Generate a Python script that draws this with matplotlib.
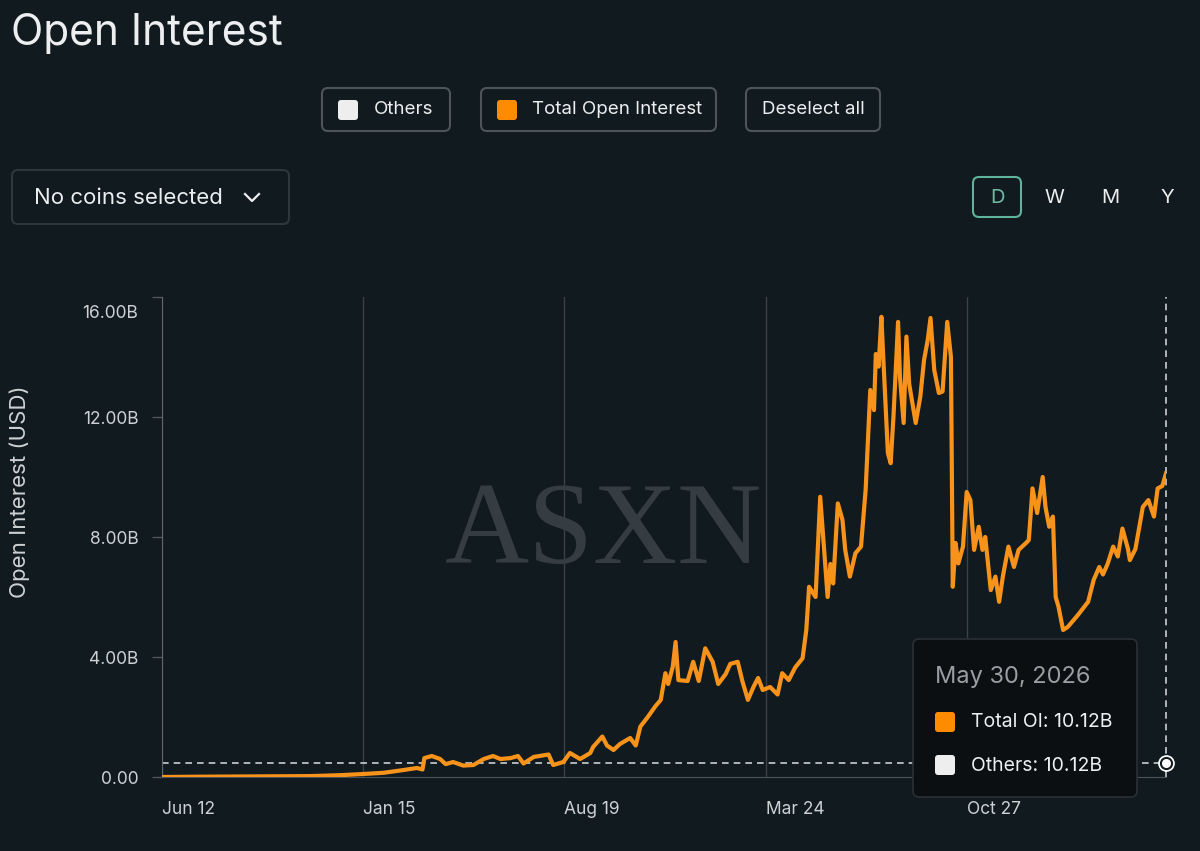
import matplotlib
matplotlib.use("Agg")
import matplotlib.pyplot as plt
from matplotlib.patches import FancyBboxPatch
from matplotlib.lines import Line2D
import pandas as pd

# values (billions USD)
dates = [
    "2023-06-12", "2023-07-23", "2023-09-26", "2023-11-19", "2023-12-21", "2024-01-15",
    "2024-02-06", "2024-02-27", "2024-03-13", "2024-03-19", "2024-03-21", "2024-03-29",
    "2024-04-07", "2024-04-13", "2024-04-21", "2024-05-02", "2024-05-13", "2024-05-24",
    "2024-06-03", "2024-06-11", "2024-06-22", "2024-06-30", "2024-07-06", "2024-07-17",
    "2024-07-27", "2024-08-02", "2024-08-07", "2024-08-18", "2024-08-25", "2024-09-05",
    "2024-09-16", "2024-09-19", "2024-09-29", "2024-10-04", "2024-10-11", "2024-10-18",
    "2024-10-29", "2024-11-04", "2024-11-09", "2024-11-17", "2024-11-25", "2024-12-01",
    "2024-12-06", "2024-12-09", "2024-12-14", "2024-12-17", "2024-12-20", "2024-12-30",
    "2025-01-05", "2025-01-11", "2025-01-18", "2025-01-26", "2025-02-01", "2025-02-09",
    "2025-02-14", "2025-02-22", "2025-02-27", "2025-03-05", "2025-03-11", "2025-03-16",
    "2025-03-21", "2025-03-29", "2025-04-06", "2025-04-11", "2025-04-18", "2025-04-25",
    "2025-05-03", "2025-05-07", "2025-05-10", "2025-05-17", "2025-05-22", "2025-05-26",
    "2025-05-30", "2025-06-02", "2025-06-05", "2025-06-10", "2025-06-15", "2025-06-18",
    "2025-06-23", "2025-06-29", "2025-07-05", "2025-07-10", "2025-07-13", "2025-07-15",
    "2025-07-19", "2025-07-21", "2025-07-24", "2025-07-27", "2025-07-29", "2025-08-03",
    "2025-08-06", "2025-08-09", "2025-08-14", "2025-08-16", "2025-08-20", "2025-08-23",
    "2025-08-26", "2025-09-02", "2025-09-07", "2025-09-11", "2025-09-15", "2025-09-18",
    "2025-09-22", "2025-09-27", "2025-10-01", "2025-10-06", "2025-10-10", "2025-10-12",
    "2025-10-15", "2025-10-18", "2025-10-23", "2025-10-27", "2025-10-31", "2025-11-04",
    "2025-11-09", "2025-11-13", "2025-11-16", "2025-11-22", "2025-11-27", "2025-12-01",
    "2025-12-05", "2025-12-11", "2025-12-17", "2025-12-22", "2025-12-30", "2026-01-02",
    "2026-01-06", "2026-01-11", "2026-01-17", "2026-01-20", "2026-01-24", "2026-01-28",
    "2026-01-31", "2026-02-03", "2026-02-08", "2026-02-13", "2026-02-24", "2026-03-07",
    "2026-03-13", "2026-03-19", "2026-03-23", "2026-03-28", "2026-04-03", "2026-04-08",
    "2026-04-13", "2026-04-19", "2026-04-21", "2026-04-27", "2026-05-05", "2026-05-11",
    "2026-05-17", "2026-05-21", "2026-05-26", "2026-05-30",
]
total_oi = [
    0.00, 0.01, 0.02, 0.03, 0.06, 0.10,
    0.14, 0.23, 0.30, 0.25, 0.63, 0.70,
    0.60, 0.43, 0.50, 0.38, 0.40, 0.60,
    0.70, 0.60, 0.63, 0.70, 0.45, 0.67,
    0.72, 0.75, 0.40, 0.50, 0.80, 0.60,
    0.80, 1.00, 1.35, 1.05, 0.90, 1.10,
    1.30, 1.05, 1.68, 2.00, 2.35, 2.57,
    3.46, 3.10, 3.68, 4.50, 3.23, 3.20,
    3.84, 3.20, 4.29, 3.84, 3.10, 3.43,
    3.77, 3.84, 3.20, 2.57, 3.00, 3.30,
    2.90, 3.00, 2.75, 3.46, 3.23, 3.65,
    3.96, 4.90, 6.34, 6.00, 9.34, 7.68,
    6.00, 7.10, 6.45, 9.12, 8.57, 7.57,
    6.68, 7.46, 7.68, 9.57, 11.57, 12.90,
    12.23, 14.10, 13.68, 15.34, 14.00, 10.80,
    10.46, 12.00, 15.17, 13.34, 11.80, 14.68,
    13.10, 11.80, 12.68, 13.90, 14.57, 15.30,
    13.57, 12.80, 12.85, 15.17, 14.00, 6.34,
    7.80, 7.12, 7.68, 9.50, 9.23, 7.57,
    8.34, 7.57, 8.00, 6.23, 6.68, 5.84,
    6.68, 7.68, 7.00, 7.57, 7.80, 7.90,
    9.62, 8.80, 10.00, 9.00, 8.34, 8.68,
    6.00, 5.68, 4.90, 5.00, 5.40, 5.84,
    6.57, 7.00, 6.75, 7.10, 7.68, 7.35,
    8.28, 7.60, 7.23, 7.60, 9.00, 9.23,
    8.68, 9.62, 9.70, 10.12,
]
tick_dates = ["2023-06-12", "2024-01-15", "2024-08-19", "2025-03-24", "2025-10-27"]
tick_labels = ["Jun 12", "Jan 15", "Aug 19", "Mar 24", "Oct 27"]
y_ticks = [0, 4, 8, 12, 16]
y_labels = ["0.00", "4.00B", "8.00B", "12.00B", ""]
cursor_level = 0.47

bg = "#111a1f"
orange = "#f7931a"
txt = "#eceef0"
muted = "#cdd1d4"

plt.rcParams["font.family"] = ["Inter", "DejaVu Sans"]

fig = plt.figure(figsize=(12, 8.51), dpi=100, facecolor=bg)
T = fig.dpi_scale_trans


def P(x, y):
    return x / 100, (851 - y) / 100


def box(x0, y0, x1, y1, ec, fc="none", r=0.06, lw=1.5, z=5):
    p = FancyBboxPatch(P(x0, y1), (x1 - x0) / 100, (y1 - y0) / 100,
                       boxstyle=f"round,pad=0,rounding_size={r}", transform=T,
                       fc=fc, ec=ec, lw=lw, zorder=z)
    fig.patches.append(p)


def label(x, y, s, **kw):
    kw.setdefault("color", txt)
    kw.setdefault("va", "center")
    fig.text(*P(x, y), s, transform=T, **kw)


# header
label(11, 34, "Open Interest", fontsize=30.5)

box(322, 88, 450, 131, "#4d555b")
box(338, 100, 358, 120, "none", fc="#eeeeee", r=0.03)
label(374, 110, "Others", fontsize=13.5)
box(481, 88, 716, 131, "#4d555b")
box(497, 100, 517, 120, "none", fc="#ff8c00", r=0.03)
label(532, 110, "Total Open Interest", fontsize=13.5)
box(746, 88, 880, 131, "#4d555b")
label(762, 110, "Deselect all", fontsize=13.5)

box(12, 170, 289, 224, "#2e373d")
label(34, 198, "No coins selected", fontsize=16)
fig.lines.append(Line2D([2.45, 2.52, 2.59], [(851 - 194) / 100, (851 - 201) / 100, (851 - 194) / 100],
                        transform=T, color=txt, lw=1.6))

box(973, 177, 1021, 217, "#5fb39a")
label(997, 198, "D", fontsize=14.5, color="#6fb9a3", ha="center")
for x, s in [(1054, "W"), (1110, "M"), (1167, "Y")]:
    label(x, 198, s, fontsize=14.5, ha="center")

# watermark
label(603, 535, "ASXN", fontsize=84, family="Liberation Serif", color="#353d43", ha="center")

# chart
ax = fig.add_axes([162 / 1200, 1 - 777 / 851, (1166 - 162) / 1200, (777 - 297) / 851])
ax.set_facecolor("none")
x = pd.to_datetime(dates)
ax.plot(x, total_oi, color=orange, lw=3.0, solid_joinstyle="round", zorder=3)
ax.set_xlim(x[0], x[-1])
ax.set_ylim(0, 16)

ax.set_xticks(pd.to_datetime(tick_dates))
ax.set_xticklabels(tick_labels, ha="left")
ax.set_yticks(y_ticks)
ax.set_yticklabels(y_labels)
ax.tick_params(axis="x", length=0, pad=17, labelsize=12.5, labelcolor=muted)
ax.tick_params(axis="y", length=7, width=1, color="#4f575d", pad=10, labelsize=12.5, labelcolor=muted)
ax.grid(axis="x", color="#3a4248", lw=1)
for s in ["top", "right"]:
    ax.spines[s].set_visible(False)
ax.spines["left"].set_color("#5f666c")
ax.spines["bottom"].set_color("#4b5359")
ax.annotate("16.00B", xy=(0, 16), xycoords=ax.get_yaxis_transform(), xytext=(-24, -16),
            textcoords="offset pixels", ha="right", va="center", fontsize=12.5, color=muted)
ax.set_ylabel("Open Interest (USD)", fontsize=16, color=muted)
ax.yaxis.set_label_coords(-0.131, 0.594)

# hover crosshair
ax.axhline(cursor_level, color="#c9cdd0", ls=(0, (4, 3)), lw=1.2, zorder=2)
ax.axvline(x[-1], color="#c9cdd0", ls=(0, (4, 3)), lw=1.2, zorder=2, clip_on=False)
ax.plot([x[-1]], [cursor_level], "o", ms=11, mfc="white", mec="white", clip_on=False, zorder=6)
ax.plot([x[-1]], [cursor_level], "o", ms=8.5, mfc=bg, mec=bg, clip_on=False, zorder=7)
ax.plot([x[-1]], [cursor_level], "o", ms=5.5, mfc="white", mec="white", clip_on=False, zorder=8)

# tooltip
box(913, 639, 1137, 797, "#2b3034", fc="#0c0f11", r=0.06, lw=1.2, z=10)
label(935, 677, "May 30, 2026", fontsize=17, color="#9a9ea2", zorder=11)
box(935, 712, 955, 732, "none", fc="#ff8c00", r=0.03, z=11)
label(971, 722, "Total OI: 10.12B", fontsize=14, zorder=11)
box(935, 755, 955, 775, "none", fc="#eeeeee", r=0.03, z=11)
label(971, 766, "Others: 10.12B", fontsize=14, zorder=11)

fig.savefig("out.png", dpi=100, facecolor=bg)
